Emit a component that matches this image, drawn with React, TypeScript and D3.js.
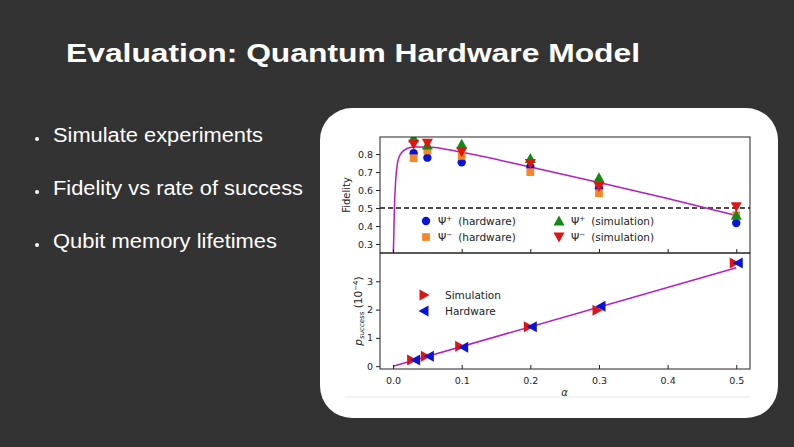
import { useEffect, useRef } from 'react'
import * as d3 from 'd3'

// alpha values where experiments were run
const alphas = [0.03, 0.05, 0.1, 0.2, 0.3, 0.5]

// fidelity, top panel
const psiPlusHw = [0.805, 0.78, 0.754, 0.73, 0.61, 0.417]
const psiMinusHw = [0.777, 0.82, 0.79, 0.7, 0.583, 0.46]
const psiPlusSim = [0.89, 0.85, 0.854, 0.776, 0.668, 0.46]
const psiMinusSim = [0.854, 0.86, 0.813, 0.748, 0.62, 0.507]

// theory curve
const curveAlpha = [0.0, 0.001, 0.002, 0.004, 0.006, 0.009, 0.013, 0.02, 0.03, 0.05, 0.1, 0.2, 0.3, 0.4, 0.5]
const curveFid = [0.2, 0.33, 0.5, 0.66, 0.74, 0.785, 0.81, 0.83, 0.84, 0.84, 0.81, 0.728, 0.642, 0.553, 0.458]

// success probability (1e-4), bottom panel
const pSim = [0.22, 0.35, 0.7, 1.39, 1.98, 3.65]
const pHw = [0.22, 0.35, 0.67, 1.39, 2.12, 3.65]
const lineAlpha = [0.0, 0.5]
const lineP = [0.0, 3.48]

const xTicks = [0.0, 0.1, 0.2, 0.3, 0.4, 0.5]
const fidTicks = [0.3, 0.4, 0.5, 0.6, 0.7, 0.8]
const pTicks = [0, 1, 2, 3]

const bullets = ['Simulate experiments', 'Fidelity vs rate of success', 'Qubit memory lifetimes']
const bulletWidths = [210, 250, 224]

const BLUE = '#0a14d8'
const ORANGE = '#f5862a'
const GREEN = '#138a13'
const RED = '#e01414'
const MAGENTA = '#b21fc0'

const App = () => {
  const svgRef = useRef(null)

  useEffect(() => {
    const svg = d3.select(svgRef.current)
    svg.selectAll('*').remove()

    // slide background
    svg.append('rect').attr('width', 794).attr('height', 447).attr('fill', '#333333')

    svg
      .append('text')
      .attr('x', 66)
      .attr('y', 62)
      .attr('fill', 'white')
      .attr('textLength', 574)
      .attr('lengthAdjust', 'spacingAndGlyphs')
      .style('font-family', 'Liberation Sans, Arial, sans-serif')
      .style('font-weight', 'bold')
      .style('font-size', '26.5px')
      .text('Evaluation: Quantum Hardware Model')

    bullets.forEach((b, i) => {
      const y = 142 + i * 53
      svg.append('circle').attr('cx', 37).attr('cy', y - 3).attr('r', 2).attr('fill', 'white')
      svg
        .append('text')
        .attr('x', 53)
        .attr('y', y)
        .attr('fill', 'white')
        .attr('textLength', bulletWidths[i])
        .attr('lengthAdjust', 'spacingAndGlyphs')
        .style('font-family', 'Liberation Sans, Arial, sans-serif')
        .style('font-size', '19.5px')
        .text(b)
    })

    // white card with the figure
    svg
      .append('rect')
      .attr('x', 320)
      .attr('y', 108)
      .attr('width', 458)
      .attr('height', 310)
      .attr('rx', 32)
      .attr('fill', 'white')

    const font = 'DejaVu Sans, sans-serif'
    const x = d3.scaleLinear().domain([-0.019, 0.52]).range([380, 750])
    const yTop = d3.scaleLinear().domain([0.25, 0.895]).range([253, 137])
    const yBot = d3.scaleLinear().domain([-0.1, 4.0]).range([369, 253])

    const clipTop = svg.append('clipPath').attr('id', 'clipTop')
    clipTop.append('rect').attr('x', 380).attr('y', 137).attr('width', 370).attr('height', 116)
    const clipBot = svg.append('clipPath').attr('id', 'clipBot')
    clipBot.append('rect').attr('x', 380).attr('y', 253).attr('width', 370).attr('height', 116)

    // dashed 0.5 line
    svg
      .append('line')
      .attr('x1', 380)
      .attr('x2', 750)
      .attr('y1', yTop(0.5))
      .attr('y2', yTop(0.5))
      .attr('stroke', '#111')
      .attr('stroke-width', 1.4)
      .attr('stroke-dasharray', '5,3')

    const topCurve = d3
      .line<number>()
      .x((d, i) => x(curveAlpha[i]))
      .y((d) => yTop(d))
      .curve(d3.curveMonotoneX)

    svg
      .append('path')
      .attr('clip-path', 'url(#clipTop)')
      .attr('d', topCurve(curveFid))
      .attr('fill', 'none')
      .attr('stroke', MAGENTA)
      .attr('stroke-width', 1.5)

    const gTop = svg.append('g').attr('clip-path', 'url(#clipTop)')
    const sym = (type, size) => d3.symbol().type(type).size(size)()
    const triDown = (s) => `M${-s * 0.55},${-s * 0.45}L${s * 0.55},${-s * 0.45}L0,${s * 0.55}Z`
    const triUp = (s) => `M${-s * 0.55},${s * 0.45}L${s * 0.55},${s * 0.45}L0,${-s * 0.55}Z`
    const triRight = (s) => `M${-s * 0.45},${-s * 0.55}L${-s * 0.45},${s * 0.55}L${s * 0.55},0Z`
    const triLeft = (s) => `M${s * 0.45},${-s * 0.55}L${s * 0.45},${s * 0.55}L${-s * 0.55},0Z`

    const series = [
      { vals: psiPlusHw, path: sym(d3.symbolCircle, 55), color: BLUE },
      { vals: psiMinusHw, path: sym(d3.symbolSquare, 60), color: ORANGE },
      { vals: psiPlusSim, path: triUp(10), color: GREEN },
      { vals: psiMinusSim, path: triDown(10), color: RED },
    ]
    series.forEach((s) => {
      gTop
        .selectAll(null)
        .data(s.vals)
        .enter()
        .append('path')
        .attr('d', s.path)
        .attr('transform', (d, i) => `translate(${x(alphas[i])},${yTop(d)})`)
        .attr('fill', s.color)
    })

    // top legend
    const legTop = [
      { path: sym(d3.symbolCircle, 55), color: BLUE, sup: '+', label: '(hardware)', lx: 426, ly: 221 },
      { path: sym(d3.symbolSquare, 60), color: ORANGE, sup: '\u2212', label: '(hardware)', lx: 426, ly: 237 },
      { path: triUp(10), color: GREEN, sup: '+', label: '(simulation)', lx: 559, ly: 221 },
      { path: triDown(10), color: RED, sup: '\u2212', label: '(simulation)', lx: 559, ly: 237 },
    ]
    legTop.forEach((l) => {
      svg.append('path').attr('d', l.path).attr('transform', `translate(${l.lx},${l.ly})`).attr('fill', l.color)
      const t = svg
        .append('text')
        .attr('x', l.lx + 12)
        .attr('y', l.ly + 4)
        .attr('fill', '#222')
        .style('font-family', font)
        .style('font-size', '10.5px')
      t.append('tspan').text('\u03a8')
      t.append('tspan').attr('dy', -4).style('font-size', '7px').text(l.sup)
      t.append('tspan').attr('dy', 4).attr('dx', 6).text(l.label)
    })

    // bottom panel
    const botLine = d3
      .line<number>()
      .x((d, i) => x(lineAlpha[i]))
      .y((d) => yBot(d))
    svg
      .append('path')
      .attr('clip-path', 'url(#clipBot)')
      .attr('d', botLine(lineP))
      .attr('fill', 'none')
      .attr('stroke', MAGENTA)
      .attr('stroke-width', 1.5)

    const gBot = svg.append('g').attr('clip-path', 'url(#clipBot)')
    gBot
      .selectAll(null)
      .data(pSim)
      .enter()
      .append('path')
      .attr('d', triRight(10))
      .attr('transform', (d, i) => `translate(${x(alphas[i]) - 2},${yBot(d)})`)
      .attr('fill', RED)
    gBot
      .selectAll(null)
      .data(pHw)
      .enter()
      .append('path')
      .attr('d', triLeft(10))
      .attr('transform', (d, i) => `translate(${x(alphas[i]) + 2},${yBot(d)})`)
      .attr('fill', BLUE)

    const legBot = [
      { path: triRight(10), color: RED, label: 'Simulation', ly: 295 },
      { path: triLeft(10), color: BLUE, label: 'Hardware', ly: 311 },
    ]
    legBot.forEach((l) => {
      svg.append('path').attr('d', l.path).attr('transform', `translate(424,${l.ly})`).attr('fill', l.color)
      svg
        .append('text')
        .attr('x', 445)
        .attr('y', l.ly + 4)
        .attr('fill', '#222')
        .style('font-family', font)
        .style('font-size', '10.5px')
        .text(l.label)
    })

    // frames and axes
    const frame = (y0, y1) =>
      svg
        .append('rect')
        .attr('x', 380)
        .attr('y', y0)
        .attr('width', 370)
        .attr('height', y1 - y0)
        .attr('fill', 'none')
        .attr('stroke', '#222')
        .attr('stroke-width', 1)
    frame(137, 253)
    frame(253, 369)

    const styleAxis = (g) => {
      g.select('.domain').remove()
      g.selectAll('line').attr('stroke', '#222')
      g.selectAll('text').attr('fill', '#222').style('font-family', font).style('font-size', '9.5px')
    }

    // y ticks point outward, x ticks point into the panel
    svg
      .append('g')
      .attr('transform', 'translate(380,0)')
      .call(d3.axisLeft(yTop).tickValues(fidTicks).tickFormat(d3.format('.1f')).tickSizeInner(4).tickPadding(3))
      .call(styleAxis)
    svg
      .append('g')
      .attr('transform', 'translate(380,0)')
      .call(d3.axisLeft(yBot).tickValues(pTicks).tickFormat(d3.format('d')).tickSizeInner(4).tickPadding(3))
      .call(styleAxis)
    svg
      .append('g')
      .attr('transform', 'translate(0,253)')
      .call(d3.axisBottom(x).tickValues(xTicks).tickSizeInner(-4).tickFormat(() => ''))
      .call(styleAxis)
    svg
      .append('g')
      .attr('transform', 'translate(0,369)')
      .call(d3.axisBottom(x).tickValues(xTicks).tickSizeInner(-4).tickPadding(8).tickFormat(d3.format('.1f')))
      .call(styleAxis)

    // axis titles
    svg
      .append('text')
      .attr('transform', `translate(350,${(137 + 253) / 2}) rotate(-90)`)
      .attr('text-anchor', 'middle')
      .attr('fill', '#222')
      .style('font-family', font)
      .style('font-size', '10px')
      .text('Fidelity')

    const pt = svg
      .append('text')
      .attr('transform', `translate(362,${(253 + 369) / 2}) rotate(-90)`)
      .attr('text-anchor', 'middle')
      .attr('fill', '#222')
      .style('font-family', font)
      .style('font-size', '10.5px')
    pt.append('tspan').style('font-style', 'italic').text('p')
    pt.append('tspan').attr('dy', 2).style('font-size', '7px').style('font-style', 'italic').text('success')
    pt.append('tspan').attr('dy', -2).text(' (10')
    pt.append('tspan').attr('dy', -4).style('font-size', '7px').text('\u22124')
    pt.append('tspan').attr('dy', 4).text(')')

    svg
      .append('text')
      .attr('x', x(0.25))
      .attr('y', 396)
      .attr('text-anchor', 'middle')
      .attr('fill', '#222')
      .style('font-family', font)
      .style('font-style', 'italic')
      .style('font-size', '10px')
      .text('\u03b1')

    svg
      .append('line')
      .attr('x1', 345)
      .attr('x2', 750)
      .attr('y1', 397)
      .attr('y2', 397)
      .attr('stroke', '#e8e8e8')
      .attr('stroke-width', 1)
  }, [])

  return <svg ref={svgRef} width={794} height={447} style={{ position: 'absolute', left: 0, top: 0 }}></svg>
}

export default App
